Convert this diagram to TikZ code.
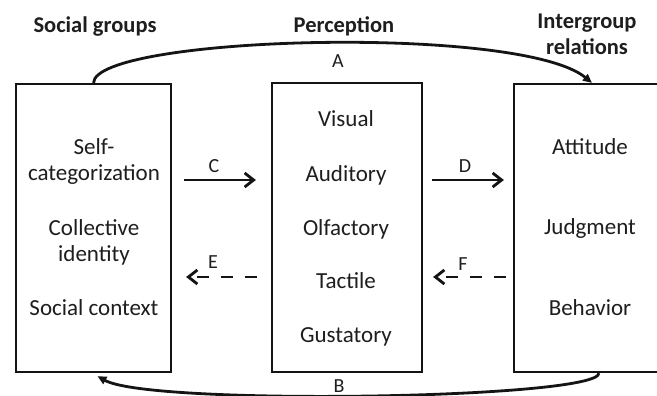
\documentclass[tikz,border=0pt]{standalone}
\usepackage{fontspec}
\setmainfont{Carlito}
\usetikzlibrary{arrows.meta}
\definecolor{txt}{HTML}{1E1E1E}
\definecolor{ln}{HTML}{141414}
\begin{document}
\begin{tikzpicture}[x=1pt,y=-1pt,
  box/.style={draw=ln, line width=2.2pt, inner sep=0pt},
  lbl/.style={font=\fontsize{23}{27}\selectfont, text=txt, anchor=base, inner sep=0pt},
  ttl/.style={font=\fontsize{22.5}{26}\selectfont\bfseries, text=txt, anchor=base, inner sep=0pt},
  ltr/.style={font=\fontsize{20}{22}\selectfont, text=txt, inner sep=0pt},
  arr/.style={line width=2.8pt, draw=ln, -{Straight Barb[length=9pt,width=14pt]}},
  darr/.style={arr, dash pattern=on 12pt off 12pt},
  curv/.style={line width=2.8pt, draw=ln, -{Triangle[length=9pt,width=8pt]}}
]
\useasboundingbox (0,0) rectangle (657,396);
\clip (0,0) rectangle (657,396);
\fill[white] (0,0) rectangle (657,396);
% boxes
\node[box, minimum width=155pt, minimum height=288pt] (L) at (93.5,228) {};
\node[box, minimum width=150pt, minimum height=289pt] (M) at (347,227.5) {};
\node[box, minimum width=156pt, minimum height=288pt] (R) at (592,228) {};
% titles
\node[ttl] (tL) at (95,33) {Social groups};
\node[ttl] (tM) at (344,33) {Perception};
\node[ttl] (tR1) at (587,29) {Intergroup};
\node[ttl] (tR2) at (587,55) {relations};
% left box text
\node[lbl] (l1) at (94,154) {Self-};
\node[lbl] (l2) at (94,180) {categorization};
\node[lbl] (l3) at (94,235) {Collective};
\node[lbl] (l4) at (94,261) {identity};
\node[lbl] (l5) at (94,315) {Social context};
% middle box text
\node[lbl] (m1) at (346,127) {Visual};
\node[lbl] (m2) at (346,182) {Auditory};
\node[lbl] (m3) at (346,235) {Olfactory};
\node[lbl] (m4) at (346,288) {Tactile};
\node[lbl] (m5) at (346,342) {Gustatory};
% right box text
\node[lbl] (r1) at (590,154) {Attitude};
\node[lbl] (r2) at (590,234) {Judgment};
\node[lbl] (r3) at (590,315) {Behavior};
% curves
\draw[curv] (L.north) .. controls (95,36) and (520,24) .. (R.north);
\draw[curv] ([xshift=7pt]R.south) .. controls (599,399) and (150,406) .. ([xshift=4pt,yshift=-3pt]L.south);
% straight arrows
\draw[arr, shorten <=12pt, shorten >=15pt] (L.east |- 0,180) -- (M.west |- 0,180);
\draw[arr, shorten <=9pt, shorten >=9pt] (M.east |- 0,180) -- (R.west |- 0,180);
\draw[darr, shorten <=14pt, shorten >=14pt] (M.west |- 0,277) -- (L.east |- 0,277);
\draw[darr, shorten <=7pt, shorten >=10pt] (R.west |- 0,277) -- (M.east |- 0,277);
% letters
\node[ltr] (la) at (338,61) {A};
\node[ltr] (lb) at (339,386) {B};
\node[ltr] (lc) at (214,166) {C};
\node[ltr] (ld) at (465,166) {D};
\node[ltr] (le) at (213,262) {E};
\node[ltr] (lf) at (463,264) {F};
\end{tikzpicture}
\end{document}
